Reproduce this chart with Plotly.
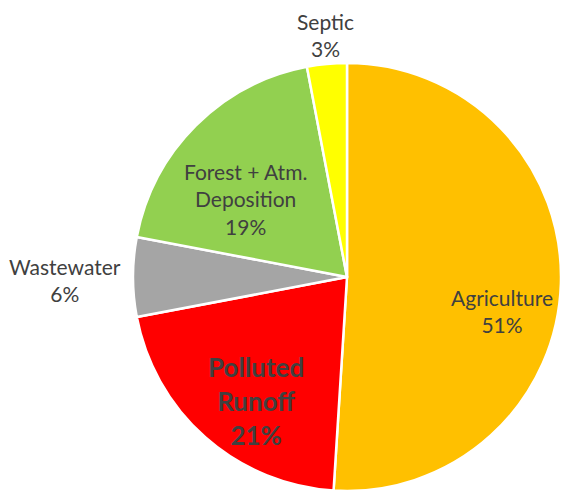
import plotly.graph_objects as go

# Data
categories = ["Agriculture", "Polluted Runoff", "Wastewater", "Forest + Atm. Deposition", "Septic"]
display_labels = ["Agriculture", "<b>Polluted<br>Runoff</b>", "Wastewater", "Forest + Atm.<br>Deposition", "Septic"]
shares = [51, 21, 6, 19, 3]
colors = ["#FFC000", "#FF0000", "#A5A5A5", "#92D050", "#FFFF00"]

W, H = 561, 491
# label anchor positions in pixels (label placement, not data marks)
label_px = [(502, 311), (256, 401), (65, 280), (245, 199), (325, 35)]
label_bold = [False, True, False, False, False]

fig = go.Figure(go.Pie(
    labels=categories,
    values=shares,
    sort=False,
    direction="clockwise",
    rotation=0,
    marker=dict(colors=colors, line=dict(color="white", width=2.5)),
    textinfo="none",
    showlegend=False,
    domain=dict(x=[133 / W, 1.0], y=[0.0, 428 / H]),
))

for lab, val, (px, py), bold in zip(display_labels, shares, label_px, label_bold):
    txt = f"{lab}<br><b>{val}%</b>" if bold else f"{lab}<br>{val}%"
    fig.add_annotation(
        text=txt,
        x=px / W, y=1 - py / H,
        xref="paper", yref="paper",
        xanchor="center", yanchor="middle",
        showarrow=False,
        align="center",
        font=dict(family="Lato", size=26 if bold else 21, color="#404040"),
    )

fig.update_layout(
    width=W, height=H,
    margin=dict(l=0, r=0, t=0, b=0),
    paper_bgcolor="white",
    plot_bgcolor="white",
)

fig.write_html(
    "out.html",
    config={"displayModeBar": False},
    post_script="document.body.style.margin='0';document.body.style.overflow='hidden';",
)
